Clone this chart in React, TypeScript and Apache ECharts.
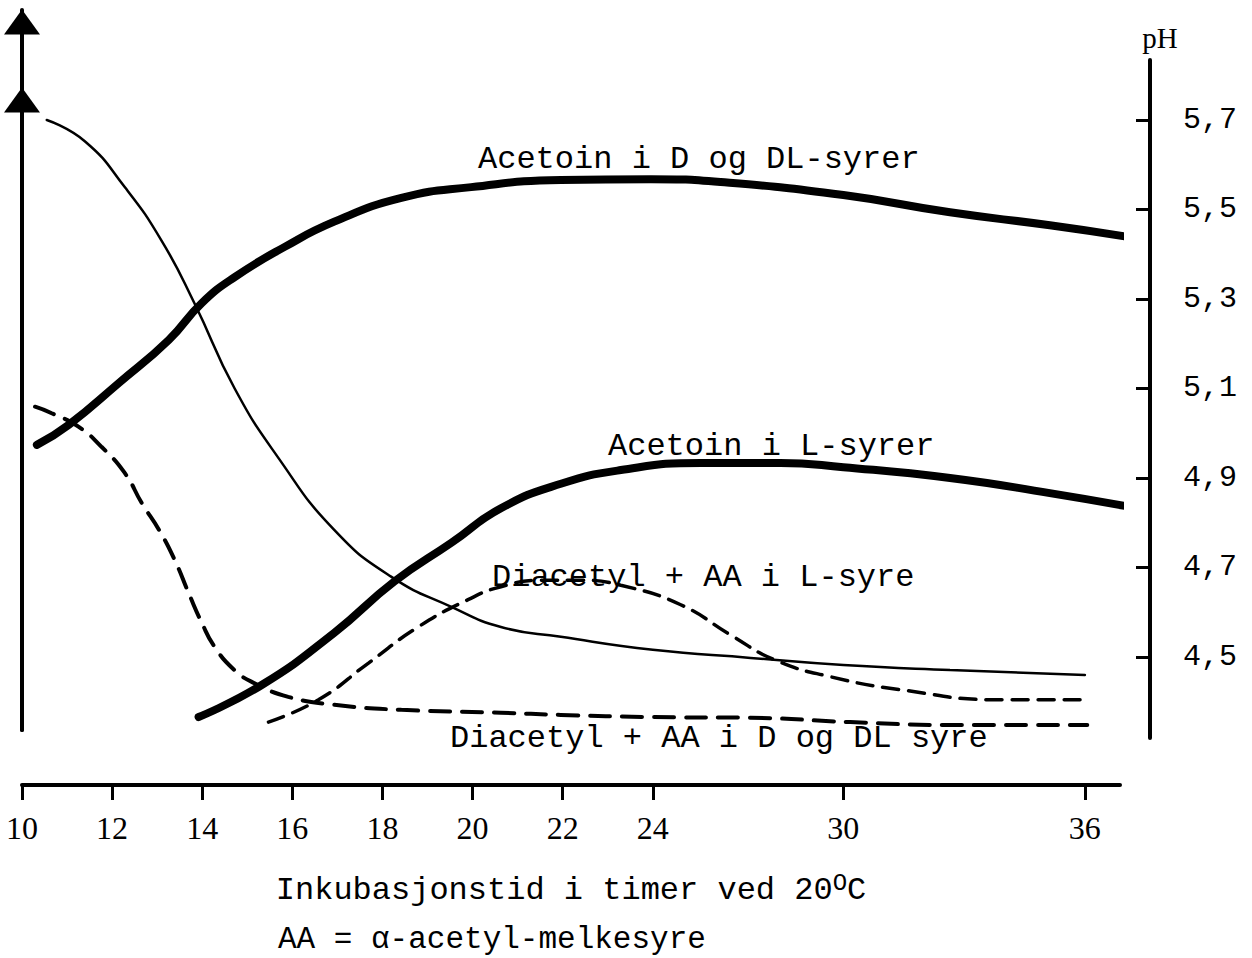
import React, { useEffect, useRef } from "react";
import * as echarts from "echarts";

// x axis: printed tick labels (hours) and their place on the (non-linear) printed scale
const tickHours = [10, 12, 14, 16, 18, 20, 22, 24, 30, 36];
const tickPos = [10, 12, 14, 16, 18, 20, 22, 24, 28.23, 33.59];
const xMin = 10;
const xMax = 34.37;

// right axis: pH
const phTicks = [4.5, 4.7, 4.9, 5.1, 5.3, 5.5, 5.7];

// pH curve (thin line)
const phHours = [10.55, 11.4, 12.28, 13.1, 13.83, 14.72, 15.69, 16.93, 18.2, 19.53, 20.63, 21.96, 24, 27.08, 30, 32.65, 36];
const phValues = [5.7, 5.652, 5.55, 5.43, 5.29, 5.1, 4.945, 4.784, 4.679, 4.612, 4.567, 4.545, 4.516, 4.498, 4.482, 4.471, 4.46];

// left axis: relative amounts (no scale printed)
const acetoinDHours = [10.33, 11.04, 12.15, 13.26, 13.99, 14.72, 15.83, 16.93, 18.42, 19.97, 21.96, 23.96, 26.14, 30, 32.65, 35.13, 37.07];
const acetoinDValues = [39.6, 42.4, 48.2, 54.2, 59.3, 62.9, 67.1, 70.6, 73.9, 75.4, 76.4, 76.5, 76.1, 74.3, 71.9, 70.1, 68.5];

const acetoinLHours = [13.92, 15.32, 16.93, 18.26, 19.53, 20.63, 21.96, 23.29, 25.51, 28.02, 30, 32.65, 35.13, 37.11];
const acetoinLValues = [1.8, 6.25, 13.5, 20.6, 26.0, 30.8, 34.2, 36.1, 37.1, 37.1, 36.5, 35.0, 32.9, 31.0];

const diacetylDHours = [10.29, 10.66, 11.26, 11.77, 12.28, 12.66, 13.04, 13.39, 13.7, 13.99, 14.28, 14.72, 15.16, 15.91, 16.93, 18.42, 20.63, 21.96, 23.96, 27.08, 30.17, 32.65, 36.06];
const diacetylDValues = [44.9, 44.0, 42.1, 39.3, 35.7, 31.5, 27.8, 23.6, 19.0, 14.9, 11.5, 8.3, 6.5, 4.6, 3.5, 2.8, 2.4, 2.1, 1.8, 1.7, 1.1, 0.7, 0.7];

const diacetylLHours = [15.47, 16.58, 17.69, 18.79, 19.9, 20.63, 21.52, 22.41, 23.29, 24.88, 26.45, 27.86, 29.59, 31.42, 33.9, 36.08];
const diacetylLValues = [1.1, 4.2, 9.3, 14.3, 18.1, 19.9, 20.8, 20.8, 20.1, 17.4, 13.2, 9.7, 7.4, 5.6, 4.2, 4.2];

const labels = {
  acetoinD: "Acetoin i D og DL-syrer",
  acetoinL: "Acetoin i L-syrer",
  diacetylL: "Diacetyl + AA i L-syre",
  diacetylD: "Diacetyl + AA i D og DL syre",
  note: "AA = \u03b1-acetyl-melkesyre",
};

function toPos(h: number): number {
  let i = 0;
  while (i < tickHours.length - 2 && h > tickHours[i + 1]) i++;
  const h0 = tickHours[i], h1 = tickHours[i + 1];
  const p0 = tickPos[i], p1 = tickPos[i + 1];
  return p0 + ((h - h0) * (p1 - p0)) / (h1 - h0);
}

function pairs(hours: number[], values: number[]) {
  return hours.map((h, i) => [toPos(h), values[i]]);
}

const MONO = "Liberation Mono";
const SERIF = "Liberation Serif";

export default function App() {
  const ref = useRef<HTMLDivElement>(null);

  useEffect(() => {
    if (!ref.current) return;
    const chart = echarts.init(ref.current, null, { renderer: "svg" });

    const hiddenX = (gridIndex: number) => ({
      type: "value",
      gridIndex,
      min: xMin,
      max: xMax,
      show: false,
    });

    const leftArrowAxis = (gridIndex: number) => ({
      type: "value",
      gridIndex,
      position: "left",
      min: 0,
      max: 100,
      axisLine: {
        show: true,
        symbol: ["none", "triangle"],
        symbolSize: [36, 25],
        symbolOffset: [0, -12],
        lineStyle: { color: "#000", width: 4 },
      },
      axisTick: { show: false },
      axisLabel: { show: false },
      splitLine: { show: false },
    });

    const lineSeries = (
      name: string,
      data: number[][],
      width: number,
      type: any,
      xAxisIndex: number,
      yAxisIndex: number
    ) => ({
      name,
      type: "line",
      data,
      xAxisIndex,
      yAxisIndex,
      smooth: 0.5,
      symbol: "none",
      showSymbol: false,
      clip: false,
      lineStyle: { color: "#000", width, type, cap: "round" },
      silent: true,
    });

    chart.setOption({
      animation: false,
      backgroundColor: "#fff",
      grid: [
        { left: 22, right: 132, top: 60, bottom: 220 },
        { left: 22, right: 132, top: 10, bottom: 228 },
        { left: 22, right: 132, top: 88, bottom: 228 },
      ],
      xAxis: [
        {
          type: "value",
          gridIndex: 0,
          min: xMin,
          max: xMax,
          position: "bottom",
          offset: 47,
          axisLine: { show: true, lineStyle: { color: "#000", width: 4 } },
          axisTick: {
            show: true,
            customValues: tickPos,
            length: 15,
            lineStyle: { color: "#000", width: 3 },
          },
          axisLabel: {
            customValues: tickPos,
            margin: 27,
            color: "#000",
            fontFamily: SERIF,
            fontSize: 32,
            formatter: (v: number) => {
              const i = tickPos.findIndex((p) => Math.abs(p - v) < 1e-6);
              return i >= 0 ? String(tickHours[i]) : "";
            },
          },
          splitLine: { show: false },
          name: "Inkubasjonstid i timer ved 20{sup|O}C",
          nameLocation: "middle",
          nameGap: 86,
          nameTextStyle: {
            color: "#000",
            fontFamily: MONO,
            fontSize: 32,
            rich: {
              sup: { fontFamily: MONO, fontSize: 24, color: "#000", padding: [0, 0, 14, 0] },
            },
          },
        },
        hiddenX(1),
        hiddenX(2),
      ],
      yAxis: [
        {
          type: "value",
          gridIndex: 0,
          position: "right",
          offset: 30,
          min: 4.319,
          max: 5.834,
          axisLine: { show: true, lineStyle: { color: "#000", width: 4 } },
          axisTick: {
            show: true,
            inside: true,
            customValues: phTicks,
            length: 14,
            lineStyle: { color: "#000", width: 3 },
          },
          axisLabel: {
            customValues: phTicks,
            margin: 33,
            color: "#000",
            fontFamily: MONO,
            fontSize: 30,
            formatter: (v: number) => v.toFixed(1).replace(".", ","),
          },
          splitLine: { show: false },
          name: "pH",
          nameLocation: "end",
          nameGap: 8,
          nameTextStyle: {
            color: "#000",
            fontFamily: SERIF,
            fontSize: 29,
            padding: [0, 0, 0, 20],
          },
        },
        leftArrowAxis(1),
        leftArrowAxis(2),
      ],
      series: [
        lineSeries("pH", pairs(phHours, phValues), 2.5, "solid", 0, 0),
        lineSeries(labels.acetoinD, pairs(acetoinDHours, acetoinDValues), 8, "solid", 1, 1),
        lineSeries(labels.acetoinL, pairs(acetoinLHours, acetoinLValues), 8, "solid", 1, 1),
        lineSeries(labels.diacetylD, pairs(diacetylDHours, diacetylDValues), 4, [20, 12], 1, 1),
        lineSeries(labels.diacetylL, pairs(diacetylLHours, diacetylLValues), 3.5, [16, 10], 1, 1),
      ],
      graphic: [
        { type: "text", left: 478, top: 143, style: { text: labels.acetoinD, fontFamily: MONO, fontSize: 32, fill: "#000" } },
        { type: "text", left: 608, top: 430, style: { text: labels.acetoinL, fontFamily: MONO, fontSize: 32, fill: "#000" } },
        { type: "text", left: 492, top: 561, style: { text: labels.diacetylL, fontFamily: MONO, fontSize: 32, fill: "#000" } },
        { type: "text", left: 450, top: 722, style: { text: labels.diacetylD, fontFamily: MONO, fontSize: 32, fill: "#000" } },
        { type: "text", left: 278, top: 924, style: { text: labels.note, fontFamily: MONO, fontSize: 31, fill: "#000" } },
      ],
    });

    return () => chart.dispose();
  }, []);

  return (
    <div
      ref={ref}
      style={{ position: "fixed", left: 0, top: 0, width: 1252, height: 958, background: "#fff" }}
    />
  );
}
